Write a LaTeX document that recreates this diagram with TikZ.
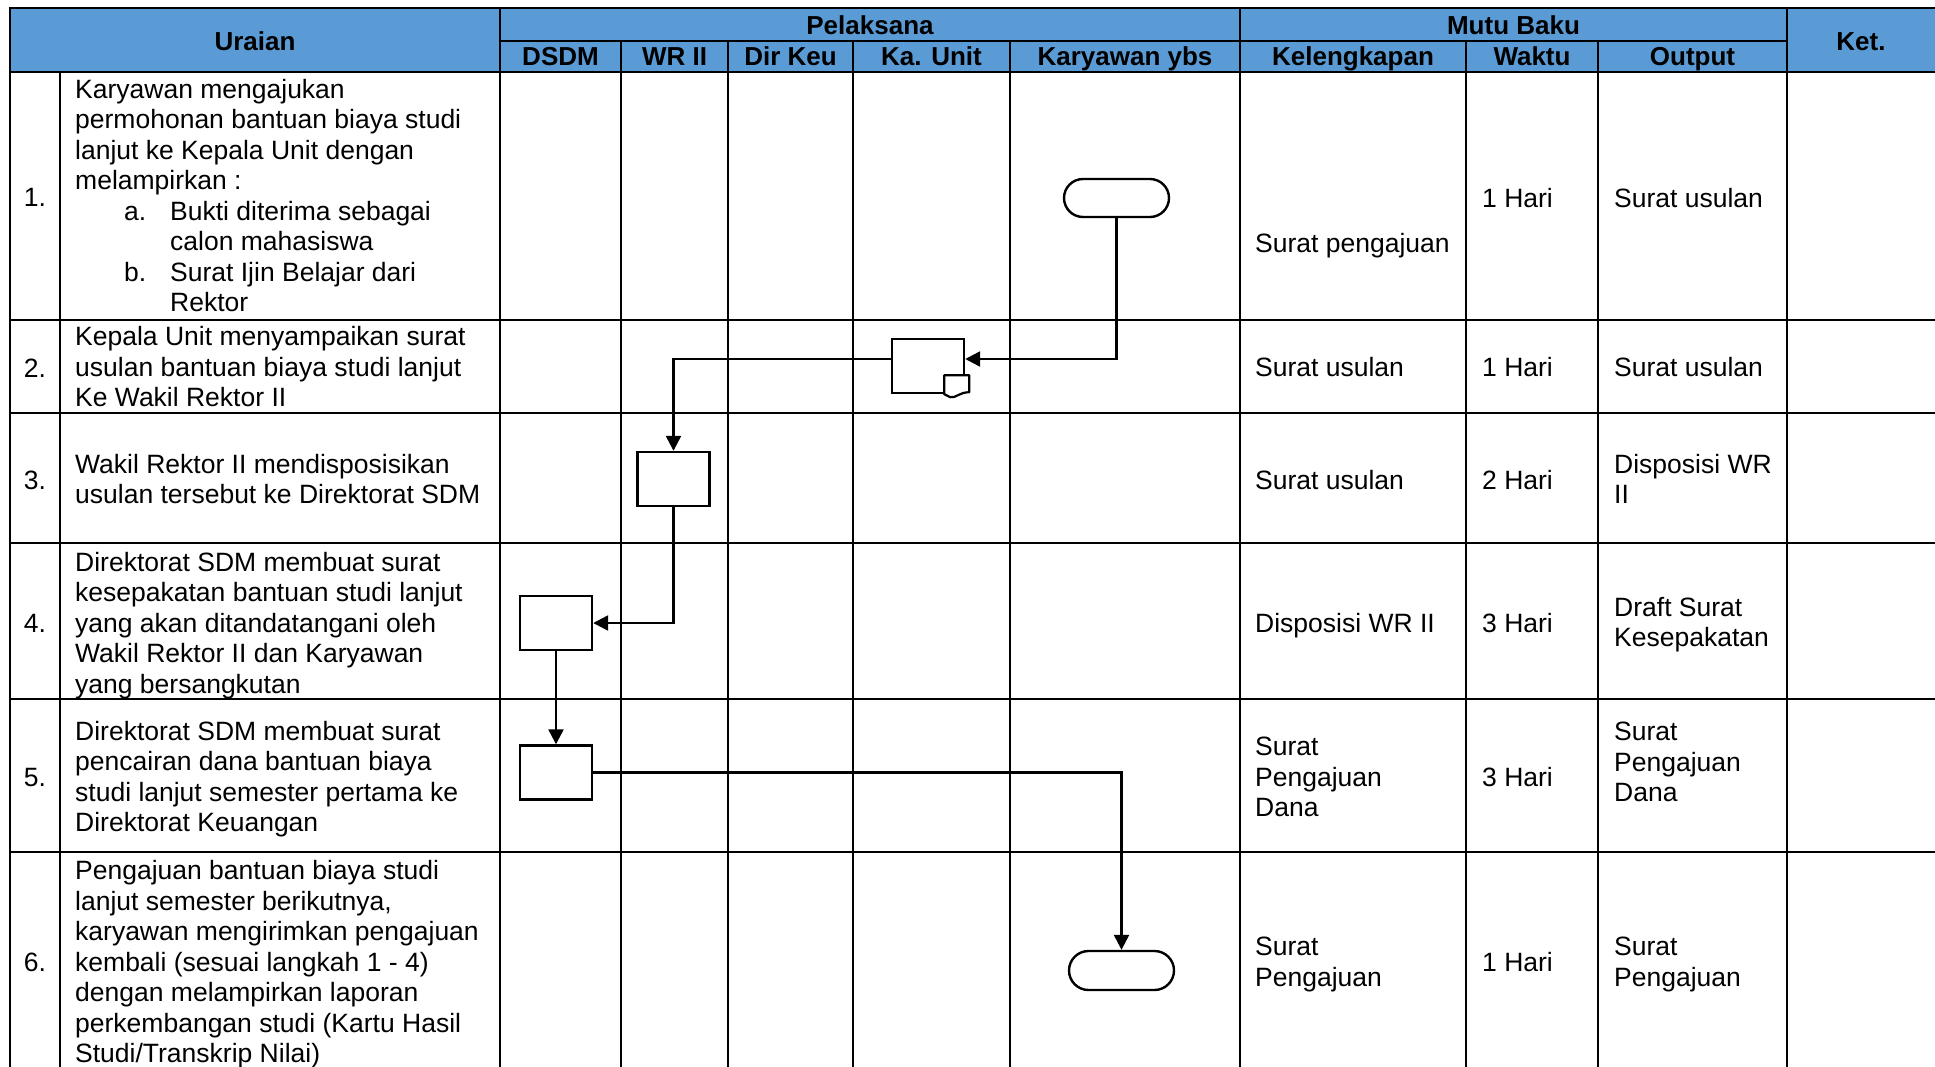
\documentclass[tikz,border=0pt]{standalone}
\usepackage{fontspec}
\setmainfont{Liberation Sans}
\usetikzlibrary{arrows.meta,calc,shapes.misc}
\definecolor{hdrblue}{RGB}{91,155,213}
\newcommand{\cellines}[1]{\begin{tabular}{@{}l@{}}#1\end{tabular}}
\begin{document}
\begin{tikzpicture}[x=1pt,y=-1pt,
 grid/.style={line width=2.2pt, line cap=rect},
 hdr/.style={anchor=base, inner sep=0pt, font=\fontsize{26}{30}\selectfont\bfseries},
 txt/.style={anchor=west, inner sep=0pt, yshift=-4pt, font=\fontsize{26.5}{30.5}\selectfont},
 num/.style={anchor=center, inner sep=0pt, yshift=-4pt, font=\fontsize{26.5}{30.5}\selectfont},
 procbox/.style={draw, line width=2.4pt, minimum width=72pt, minimum height=54pt, inner sep=0pt, fill=white},
 termbox/.style={draw, line width=2.4pt, rounded rectangle, minimum width=105pt, minimum height=38pt, inner sep=0pt, fill=white},
 conn/.style={line width=2.4pt, -{Triangle[length=15pt,width=15pt]}}
]
\useasboundingbox (0,0) rectangle (1935,1066);
\fill[white] (0,0) rectangle (1935,1066);
% header fill
\fill[hdrblue] (10,8) rectangle (1935,72);
% horizontal grid lines
\draw[grid] (10,8) -- (1935,8);
\draw[grid] (500,41) -- (1787,41);
\draw[grid] (10,72) -- (1935,72);
\foreach \yy in {320,413,543,699,852} \draw[grid] (10,\yy) -- (1935,\yy);
% vertical grid lines
\draw[grid] (10,8) -- (10,1066);
\draw[grid] (60,72) -- (60,1066);
\draw[grid] (500,8) -- (500,1066);
\foreach \xx in {621,728,853,1010,1466,1598} \draw[grid] (\xx,41) -- (\xx,1066);
\draw[grid] (1240,8) -- (1240,1066);
\draw[grid] (1787,8) -- (1787,1066);
% header texts
\node[hdr] (hU) at (255,50) {Uraian};
\node[hdr] (hP) at (870,34) {Pelaksana};
\node[hdr] (hM) at (1513.5,34) {Mutu Baku};
\node[hdr] (hK) at (1861,50) {Ket.};
\node[hdr] (hDS) at (560.5,65) {DSDM};
\node[hdr] (hWR) at (674.5,65) {WR II};
\node[hdr] (hDK) at (790.5,65) {Dir Keu};
\node[hdr] (hKU) at (931.5,65) {Ka. Unit};
\node[hdr] (hKY) at (1125,65) {Karyawan ybs};
\node[hdr] (hKL) at (1353,65) {Kelengkapan};
\node[hdr] (hWK) at (1532,65) {Waktu};
\node[hdr] (hOP) at (1692.5,65) {Output};
% numbers
\node[num] (n1) at (35,196) {\cellines{1.}};
\node[num] (n2) at (35,367) {\cellines{2.}};
\node[num] (n3) at (35,479) {\cellines{3.}};
\node[num] (n4) at (35,622) {\cellines{4.}};
\node[num] (n5) at (35,776) {\cellines{5.}};
\node[num] (n6) at (35,961) {\cellines{6.}};
% uraian
\node[txt] (u1) at (75,195) {\cellines{Karyawan mengajukan\\ permohonan bantuan biaya studi\\ lanjut ke Kepala Unit dengan\\ melampirkan :\\ \hspace*{49pt}\makebox[46pt][l]{a.}Bukti diterima sebagai\\ \hspace*{95pt}calon mahasiswa\\ \hspace*{49pt}\makebox[46pt][l]{b.}Surat Ijin Belajar dari\\ \hspace*{95pt}Rektor}};
\node[txt] (u2) at (75,366) {\cellines{Kepala Unit menyampaikan surat\\ usulan bantuan biaya studi lanjut\\ Ke Wakil Rektor II}};
\node[txt] (u3) at (75,478.5) {\cellines{Wakil Rektor II mendisposisikan\\ usulan tersebut ke Direktorat SDM}};
\node[txt] (u4) at (75,622) {\cellines{Direktorat SDM membuat surat\\ kesepakatan bantuan studi lanjut\\ yang akan ditandatangani oleh\\ Wakil Rektor II dan Karyawan\\ yang bersangkutan}};
\node[txt] (u5) at (75,776) {\cellines{Direktorat SDM membuat surat\\ pencairan dana bantuan biaya\\ studi lanjut semester pertama ke\\ Direktorat Keuangan}};
\node[txt] (u6) at (75,961) {\cellines{Pengajuan bantuan biaya studi\\ lanjut semester berikutnya,\\ karyawan mengirimkan pengajuan\\ kembali (sesuai langkah 1 - 4)\\ dengan melampirkan laporan\\ perkembangan studi (Kartu Hasil\\ Studi/Transkrip Nilai)}};
% kelengkapan
\node[txt] (k1) at (1255,242) {\cellines{Surat pengajuan}};
\node[txt] (k2) at (1255,366) {\cellines{Surat usulan}};
\node[txt] (k3) at (1255,479) {\cellines{Surat usulan}};
\node[txt] (k4) at (1255,622) {\cellines{Disposisi WR II}};
\node[txt] (k5) at (1255,776) {\cellines{Surat\\ Pengajuan\\ Dana}};
\node[txt] (k6) at (1255,961) {\cellines{Surat\\ Pengajuan}};
% waktu
\node[txt] (w1) at (1482,197) {\cellines{1 Hari}};
\node[txt] (w2) at (1482,366) {\cellines{1 Hari}};
\node[txt] (w3) at (1482,479) {\cellines{2 Hari}};
\node[txt] (w4) at (1482,622) {\cellines{3 Hari}};
\node[txt] (w5) at (1482,776) {\cellines{3 Hari}};
\node[txt] (w6) at (1482,961) {\cellines{1 Hari}};
% output
\node[txt] (o1) at (1614,197) {\cellines{Surat usulan}};
\node[txt] (o2) at (1614,366) {\cellines{Surat usulan}};
\node[txt] (o3) at (1614,478.5) {\cellines{Disposisi WR\\ II}};
\node[txt] (o4) at (1614,621.5) {\cellines{Draft Surat\\ Kesepakatan}};
\node[txt] (o5) at (1614,761) {\cellines{Surat\\ Pengajuan\\ Dana}};
\node[txt] (o6) at (1614,961) {\cellines{Surat\\ Pengajuan}};
% flow shapes
\node[termbox] (t1) at (1116.5,198) {};
\node[procbox] (ku) at (928,366) {};
\coordinate (tabA) at ($(ku.south east)+(-21,0)$);
\draw[line width=2.2pt, fill=white, line join=round] (tabA) -- ($(tabA)+(0,-19)$) -- ($(tabA)+(25,-19)$) -- ($(tabA)+(25,-2)$) .. controls ($(tabA)+(15,-2)$) and ($(tabA)+(12,4)$) .. ($(tabA)+(6,3)$) .. controls ($(tabA)+(3,2)$) .. (tabA) -- cycle;
\node[procbox] (wr) at (673.5,479) {};
\node[procbox] (d4) at (556,623) {};
\node[procbox] (d5) at (556,772.5) {};
\node[termbox, minimum height=39pt] (t6) at (1121.5,970.5) {};
% connectors
\draw[conn] (t1.south) |- ([yshift=7pt]ku.east);
\draw[conn] ([yshift=7pt]ku.west) -| (wr.north);
\draw[conn] (wr.south) |- (d4.east);
\draw[conn] (d4.south) -- (d5.north);
\draw[conn] (d5.east) -| (t6.north);
\end{tikzpicture}
\end{document}
